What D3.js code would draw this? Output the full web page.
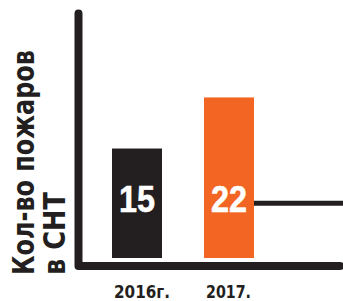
<!DOCTYPE html>
<html>
<head>
<meta charset="utf-8">
<script src="https://cdn.jsdelivr.net/npm/d3@7"></script>
<style>
  html, body { margin: 0; padding: 0; background: #ffffff; }
  svg { display: block; }
</style>
</head>
<body>
<svg id="chart" width="343" height="301"></svg>
<script>
// ---- data ----
const categories = ["2016г.", "2017."];
const values = [15, 22];
const barColors = ["#231f20", "#f26522"];
const titleLines = ["Кол-во пожаров", "в СНТ"];
const guideValue = 7.5;

const W = 343, H = 301;
const ink = "#231f20";
const svg = d3.select("#chart");

const x = d3.scaleBand()
  .domain(categories)
  .range([112, 254])
  .paddingInner(42 / 92)
  .paddingOuter(0);

const y = d3.scaleLinear()
  .domain([0, 33.5])
  .range([258, 13.5]);

const axisX = 78.5, axisY = 266;

// guide line from the right edge of last bar to the chart edge
const lastCat = categories[categories.length - 1];
svg.append("line")
  .attr("x1", x(lastCat) + x.bandwidth())
  .attr("x2", W + 5)
  .attr("y1", y(guideValue))
  .attr("y2", y(guideValue))
  .attr("stroke", ink)
  .attr("stroke-width", 5);

// bars
svg.selectAll("rect.bar")
  .data(categories)
  .join("rect")
  .attr("class", "bar")
  .attr("x", d => x(d))
  .attr("width", x.bandwidth())
  .attr("y", (d, i) => y(values[i]))
  .attr("height", (d, i) => y(0) - y(values[i]))
  .attr("fill", (d, i) => barColors[i]);

// value labels
svg.selectAll("text.val")
  .data(categories)
  .join("text")
  .attr("class", "val")
  .attr("x", d => x(d) + x.bandwidth() / 2)
  .attr("y", y(0) - 46)
  .attr("text-anchor", "middle")
  .attr("font-family", "'Liberation Sans', Arial, sans-serif")
  .attr("font-weight", "bold")
  .attr("font-size", 37)
  .attr("textLength", 36)
  .attr("lengthAdjust", "spacingAndGlyphs")
  .attr("fill", "#ffffff")
  .attr("stroke", "#ffffff")
  .attr("stroke-width", 0.6)
  .text((d, i) => values[i]);

// axes (L-shaped, rounded)
svg.append("path")
  .attr("d", `M${axisX},${y.range()[1]} L${axisX},${axisY} L${W - 3},${axisY}`)
  .attr("fill", "none")
  .attr("stroke", ink)
  .attr("stroke-width", 8)
  .attr("stroke-linecap", "round")
  .attr("stroke-linejoin", "round");

// category labels
svg.selectAll("text.cat")
  .data(categories)
  .join("text")
  .attr("class", "cat")
  .attr("x", d => x(d) + 2)
  .attr("y", 298)
  .attr("text-anchor", "start")
  .attr("font-family", "'DejaVu Sans', sans-serif")
  .attr("font-weight", "bold")
  .attr("font-size", 18)
  .attr("textLength", (d, i) => i === 0 ? 56 : 45)
  .attr("lengthAdjust", "spacingAndGlyphs")
  .attr("fill", ink)
  .text(d => d);

// rotated title (horizontally condensed via scale so the box stays true)
const titleLens = [225, 83];
const titleBase = [34, 65];
titleLines.forEach((t, i) => {
  const txt = svg.append("text")
    .attr("text-anchor", "start")
    .attr("font-family", "'DejaVu Sans', sans-serif")
    .attr("font-weight", "bold")
    .attr("font-size", 30)
    .attr("fill", ink)
    .text(t);
  const natural = txt.node().getComputedTextLength();
  const sx = titleLens[i] / natural;
  txt.attr("transform", `translate(${titleBase[i]},275) rotate(-90) scale(${sx},1)`);
});
</script>
</body>
</html>
